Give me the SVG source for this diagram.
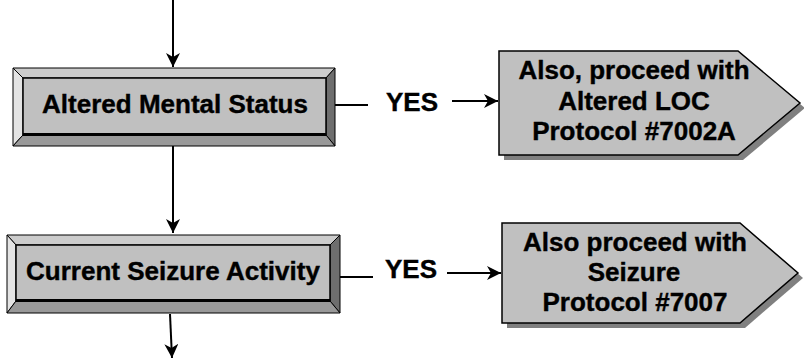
<svg xmlns="http://www.w3.org/2000/svg" width="804" height="360" viewBox="0 0 804 360">
<defs>
<style>
text{font-family:"Liberation Sans",Arial,sans-serif;font-weight:bold;font-size:26px;fill:#000;stroke:#000;stroke-width:0.4}
.c{stroke:#000;stroke-width:2;fill:none}
.bt{fill:#cccccc;stroke:#000;stroke-width:1}
.bl{fill:#e4e4e4;stroke:#000;stroke-width:1}
.br{fill:#6e6e6e;stroke:#000;stroke-width:1}
.bb{fill:#999999;stroke:#000;stroke-width:1}
.face{fill:#c0c0c0;stroke:#000;stroke-width:1.5}
.pent{fill:#c0c0c0;stroke:#000;stroke-width:1.5}
.shadow{fill:#808080}
</style>
<marker id="ah" markerUnits="userSpaceOnUse" markerWidth="16" markerHeight="16" refX="14" refY="7" orient="auto">
<path d="M0,0 L14,7 L0,14 L4,7 Z" fill="#000"/>
</marker>
</defs>
<g id="connectors">
<line class="c" x1="173" y1="0" x2="173" y2="67" marker-end="url(#ah)"/>
<line class="c" x1="173" y1="146" x2="173" y2="233" marker-end="url(#ah)"/>
<line class="c" x1="170" y1="314" x2="172" y2="358" marker-end="url(#ah)"/>
<line class="c" x1="335" y1="105" x2="368" y2="105"/>
<line class="c" x1="452" y1="101" x2="498" y2="101" marker-end="url(#ah)"/>
<line class="c" x1="340" y1="277" x2="373" y2="277"/>
<line class="c" x1="447" y1="273" x2="501" y2="273" marker-end="url(#ah)"/>
<text x="412" y="111" text-anchor="middle">YES</text>
<text x="411" y="278" text-anchor="middle">YES</text>
</g>
<g id="node-altered-mental-status">
<polygon class="bt" points="13,68 335,68 326,78 23,78"/>
<polygon class="bl" points="13,68 23,78 23,135 13,146"/>
<polygon class="br" points="335,68 335,146 326,135 326,78"/>
<polygon class="bb" points="23,135 326,135 335,146 13,146"/>
<rect class="face" x="23" y="78" width="303" height="57"/>
<line x1="23" y1="134.5" x2="326" y2="134.5" stroke="#000" stroke-width="3"/>
<text x="175" y="113" text-anchor="middle">Altered Mental Status</text>
</g>
<g id="node-also-altered-loc">
<polygon class="shadow" points="504,56 743,56 805,108 743,160 504,160"/>
<polygon class="pent" points="499,51 738,51 800,103 738,155 499,155"/>
<text x="634" y="79" text-anchor="middle">Also, proceed with</text>
<text x="634" y="110" text-anchor="middle">Altered LOC</text>
<text x="634" y="140" text-anchor="middle">Protocol #7002A</text>
</g>
<g id="node-current-seizure-activity">
<polygon class="bt" points="7,235 340,235 330,245 16,245"/>
<polygon class="bl" points="7,235 16,245 16,301 7,313"/>
<polygon class="br" points="340,235 340,313 330,301 330,245"/>
<polygon class="bb" points="16,301 330,301 340,313 7,313"/>
<rect class="face" x="16" y="245" width="314" height="56"/>
<line x1="16" y1="300.5" x2="330" y2="300.5" stroke="#000" stroke-width="3"/>
<text x="173" y="280" text-anchor="middle">Current Seizure Activity</text>
</g>
<g id="node-also-seizure">
<polygon class="shadow" points="507,228 745,228 803,278 745,328 507,328"/>
<polygon class="pent" points="502,223 740,223 798,273 740,323 502,323"/>
<text x="635" y="251" text-anchor="middle">Also proceed with</text>
<text x="634" y="281" text-anchor="middle">Seizure</text>
<text x="635" y="311" text-anchor="middle">Protocol #7007</text>
</g>
</svg>
